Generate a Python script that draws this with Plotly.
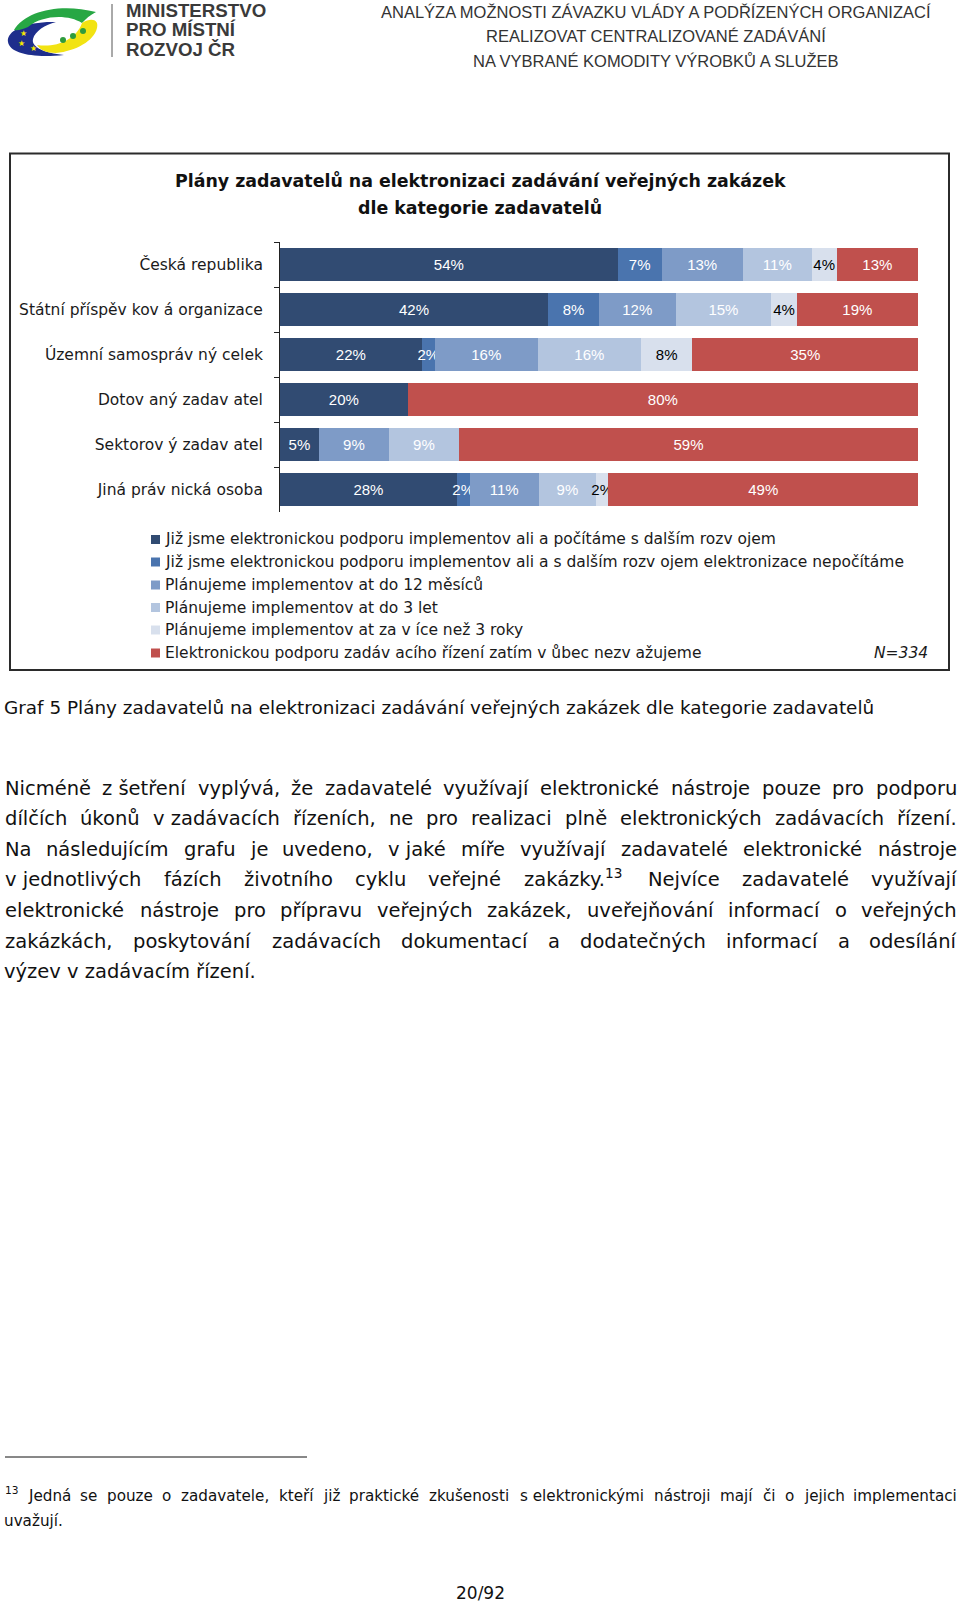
import re
import plotly.graph_objects as go

# ---------------- data ----------------
categories = [
    "Česká republika",
    "Státní příspěv kov á organizace",
    "Územní samospráv ný celek",
    "Dotov aný zadav atel",
    "Sektorov ý zadav atel",
    "Jiná práv nická osoba",
]
series_names = [
    "Již jsme elektronickou podporu implementov ali a počítáme s dalším rozv ojem",
    "Již jsme elektronickou podporu implementov ali a s dalším rozv ojem elektronizace nepočítáme",
    "Plánujeme implementov at do 12 měsíců",
    "Plánujeme implementov at do 3 let",
    "Plánujeme implementov at za v íce než 3 roky",
    "Elektronickou podporu zadáv acího řízení zatím v ůbec nezv ažujeme",
]
implemented_expand = [54, 42, 22, 20, 5, 28]
implemented_no_expand = [7, 8, 2, None, None, 2]
plan_12_months = [13, 12, 16, None, 9, 11]
plan_3_years = [11, 15, 16, None, 9, 9]
plan_over_3_years = [4, 4, 8, None, None, 2]
not_considering = [13, 19, 35, 80, 59, 49]
series_values = [implemented_expand, implemented_no_expand, plan_12_months,
                 plan_3_years, plan_over_3_years, not_considering]

series_colors = ["#314B72", "#4A74AE", "#7E9BC7", "#B3C5DF", "#D8E0ED", "#C0504D"]
label_colors = ["#FFFFFF", "#FFFFFF", "#FFFFFF", "#FFFFFF", "#000000", "#FFFFFF"]

chart_title = ["Plány zadavatelů na elektronizaci zadávání veřejných zakázek",
               "dle kategorie zadavatelů"]
sample_note = "N=334"

header_right = ["ANALÝZA MOŽNOSTI ZÁVAZKU VLÁDY A PODŘÍZENÝCH ORGANIZACÍ",
                "REALIZOVAT CENTRALIZOVANÉ ZADÁVÁNÍ",
                "NA VYBRANÉ KOMODITY VÝROBKŮ A SLUŽEB"]
header_left = ["MINISTERSTVO", "PRO MÍSTNÍ", "ROZVOJ ČR"]

caption = "Graf 5 Plány zadavatelů na elektronizaci zadávání veřejných zakázek dle kategorie zadavatelů"
paragraph = [
    "Nicméně z šetření vyplývá, že zadavatelé využívají elektronické nástroje pouze pro podporu",
    "dílčích úkonů v zadávacích řízeních, ne pro realizaci plně elektronických zadávacích řízení.",
    "Na následujícím grafu je uvedeno, v jaké míře využívají zadavatelé elektronické nástroje",
    "v jednotlivých fázích životního cyklu veřejné zakázky.<sup>13</sup> Nejvíce zadavatelé využívají",
    "elektronické nástroje pro přípravu veřejných zakázek, uveřejňování informací o veřejných",
    "zakázkách, poskytování zadávacích dokumentací a dodatečných informací a odesílání",
    "výzev v zadávacím řízení.",
]
footnote = ["<sup>13</sup> Jedná se pouze o zadavatele, kteří již praktické zkušenosti s elektronickými nástroji mají či o jejich implementaci",
            "uvažují."]
page_number = "20/92"

# ---------------- layout helpers ----------------
W, H = 960, 1605
NBSP = "\u00a0"


def X(px):
    return px / W


def Y(py):
    return 1 - py / H


def conv_path(p):
    def rep(m):
        x, y = float(m.group(1)), float(m.group(2))
        return f"{X(x):.5f},{Y(y):.5f}"
    return re.sub(r"(-?\d+\.?\d*),(-?\d+\.?\d*)", rep, p)


BODY_FONT = "DejaVu Sans, Noto Sans, sans-serif"
LABEL_FONT = "Liberation Sans, Arial, sans-serif"

# approximate DejaVu Sans advance widths (em) used to justify body text lines
_DV = {" ": .318, NBSP: .318, "a": .613, "b": .635, "c": .550, "d": .635, "e": .615,
       "f": .352, "g": .635, "h": .634, "i": .278, "j": .278, "k": .579, "l": .278,
       "m": .974, "n": .634, "o": .612, "p": .635, "q": .635, "r": .411, "s": .521,
       "t": .392, "u": .634, "v": .592, "w": .818, "x": .592, "y": .592, "z": .525,
       ".": .318, ",": .318, "J": .295, "N": .748, "0": .636, "1": .636, "2": .636,
       "3": .636}
_BASE = str.maketrans("áéěíýůúóčďňřšťž", "aeeiyuuocdnrstz")


def plain_width(txt, size):
    return sum(_DV.get(c, .6) for c in txt.translate(_BASE)) * size


def token_width(tok, size):
    total = 0.0
    for part in re.split(r"(<sup>.*?</sup>)", tok):
        if part.startswith("<sup>"):
            total += plain_width(part[5:-6], size * 0.7)
        else:
            total += plain_width(part, size)
    return total


annotations = []
shapes = []


def ann(text, x, y, size, color="#000000", family=BODY_FONT, xanchor="left", yanchor="middle"):
    annotations.append(dict(
        text=text, x=X(x), y=Y(y), xref="paper", yref="paper", showarrow=False,
        xanchor=xanchor, yanchor=yanchor, font=dict(size=size, color=color, family=family),
        borderpad=0, borderwidth=0,
    ))


def place_token(tok, x, y, size, color):
    cx = x
    for part in re.split(r"(<sup>.*?</sup>)", tok):
        if not part:
            continue
        if part.startswith("<sup>"):
            s = part[5:-6]
            if cx > x:
                cx -= 4
            ann(s, cx, y - 0.36 * size, size * 0.7, color)
            cx += plain_width(s, size * 0.7)
        else:
            lead = len(part) - len(part.lstrip(NBSP + " "))
            cx += lead * _DV[" "] * size
            txt = part.lstrip(NBSP + " ")
            ann(txt, cx - (3 if lead else 0), y, size, color)
            cx += plain_width(txt, size)


def tokenize(line):
    # single-letter prepositions stay attached to the following word (Czech typography)
    words = line.split(" ")
    toks = []
    carry = ""
    for w in words:
        if w in ("v", "z", "s"):
            carry += w + NBSP
            continue
        toks.append(carry + w)
        carry = ""
    if carry:
        toks.append(carry.rstrip(NBSP))
    return toks


def justified(line, y, size, x0=5, x1=957, color="#111111"):
    toks = tokenize(line)
    widths = [token_width(t, size) for t in toks]
    gap = (x1 - x0 - sum(widths)) / (len(toks) - 1)
    x = x0
    for i, (t, wd) in enumerate(zip(toks, widths)):
        if i == len(toks) - 1 and "<sup>" not in t:
            ann(t, x1, y, size, color, xanchor="right")
        else:
            place_token(t, x, y, size, color)
        x += wd + gap


# ---------------- figure ----------------
fig = go.Figure()
for name, vals, col, lc in zip(series_names, series_values, series_colors, label_colors):
    fig.add_trace(go.Bar(
        y=categories, x=vals, name=name, orientation="h",
        marker=dict(color=col, line=dict(width=0)),
        text=[f"{v}%" if v else None for v in vals],
        textposition="inside", insidetextanchor="middle", textangle=0,
        constraintext="none",
        textfont=dict(color=lc, size=15, family=LABEL_FONT),
        showlegend=False, hoverinfo="skip",
    ))

# chart border
shapes.append(dict(type="rect", xref="paper", yref="paper",
                   x0=X(10), x1=X(949), y0=Y(670), y1=Y(153.5),
                   line=dict(color="#2b2b2b", width=2)))

# chart title
ann("<b>" + chart_title[0] + "</b>", 480, 181, 17.4, "#111111", xanchor="center")
ann("<b>" + chart_title[1] + "</b>", 480, 207, 17.4, "#111111", xanchor="center")

# custom legend
legend_y = [539.5, 562, 585, 607.5, 630, 653]
for name, col, ly in zip(series_names, series_colors, legend_y):
    shapes.append(dict(type="rect", xref="paper", yref="paper",
                       x0=X(151), x1=X(160), y0=Y(ly + 4.5), y1=Y(ly - 4.5),
                       fillcolor=col, line=dict(width=0)))
    ann(name, 165, ly, 15.5, "#1a1a1a")
ann("<i>" + sample_note + "</i>", 928, 653, 15.5, "#1a1a1a", xanchor="right")

# header: logo
logo_paths = [
    ("M 56,22 C 28,21 6,30 8,42 C 10,54 34,58 64,55 C 44,53 31,47 33,39 C 35,31 45,25 56,22 Z", "#1E2E8C"),
    ("M 14,30 C 26,10 62,3 96,12 C 90,15 86,19 82,23 C 68,14 42,15 28,27 C 23,29 18,31 14,30 Z", "#27A744"),
    ("M 82,23 C 92,17 99,20 97,28 C 94,41 76,51 56,53 C 46,53 40,50 37,45 C 56,48 76,40 82,23 Z", "#F2E313"),
]
for p, c in logo_paths:
    shapes.append(dict(type="path", xref="paper", yref="paper", path=conv_path(p),
                       fillcolor=c, line=dict(width=0)))
for (cx, cy) in [(63, 40), (73, 36), (83, 31)]:
    shapes.append(dict(type="circle", xref="paper", yref="paper",
                       x0=X(cx - 3), x1=X(cx + 3), y0=Y(cy + 3), y1=Y(cy - 3),
                       fillcolor="#2E9B3E", line=dict(width=0)))
for (sx, sy) in [(23, 33), (21, 43), (33, 48)]:
    ann("★", sx, sy, 8, "#F5E600", xanchor="center")
shapes.append(dict(type="line", xref="paper", yref="paper",
                   x0=X(112), x1=X(112), y0=Y(4), y1=Y(57),
                   line=dict(color="#555555", width=1)))
for i, t in enumerate(header_left):
    ann("<b>" + t + "</b>", 126, 10 + i * 19.8, 18.7, "#3a3a3a", family=LABEL_FONT)
for i, t in enumerate(header_right):
    ann(t, 656, 12 + i * 24.3, 16.5, "#333333", family=LABEL_FONT, xanchor="center")

# caption and body text
ann(caption, 4, 707, 18.4, "#111111")
for i, line in enumerate(paragraph):
    ly = 788 + i * 30.65
    if i < len(paragraph) - 1:
        justified(line, ly, 19.5)
    else:
        ann(line, 4, ly, 19.5, "#111111")

# footnote
shapes.append(dict(type="line", xref="paper", yref="paper",
                   x0=X(5), x1=X(307), y0=Y(1457), y1=Y(1457),
                   line=dict(color="#111111", width=1)))
justified(footnote[0], 1496, 15.2)
ann(footnote[1], 4, 1521, 15.2, "#111111")
ann(page_number, 480, 1593, 17, "#111111", xanchor="center")

fig.update_layout(
    width=W, height=H, autosize=False,
    margin=dict(l=0, r=0, t=0, b=0),
    paper_bgcolor="white", plot_bgcolor="white",
    barmode="stack", barnorm="percent", bargap=0.26,
    xaxis=dict(domain=[X(280), X(918)], range=[0, 100], visible=False, fixedrange=True),
    yaxis=dict(domain=[Y(512), Y(242)], type="category",
               categoryorder="array", categoryarray=categories, autorange="reversed",
               showline=True, linecolor="#222222", linewidth=1,
               ticks="outside", tickson="boundaries", ticklen=5, tickcolor="#222222",
               ticklabelstandoff=13, showgrid=False, fixedrange=True,
               tickfont=dict(size=15.5, color="#1a1a1a", family=BODY_FONT)),
    annotations=annotations, shapes=shapes,
    showlegend=False,
)

fig.write_html("out.html", config={"displayModeBar": False, "staticPlot": True},
               post_script="document.body.style.margin='0';document.body.style.overflow='hidden';")
